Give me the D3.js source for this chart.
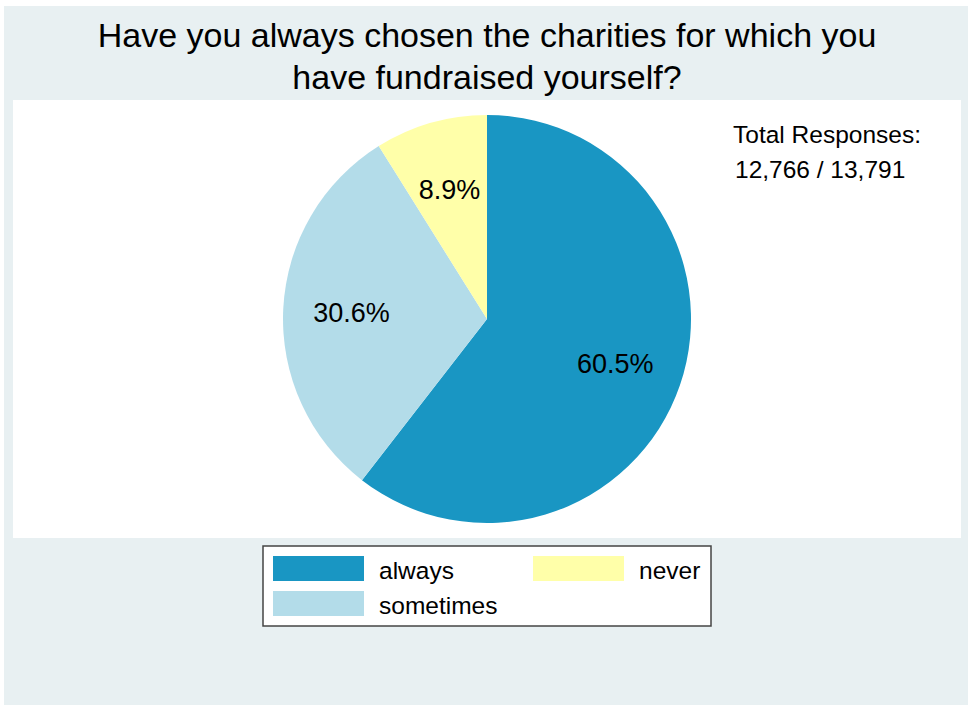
<!DOCTYPE html>
<html>
<head>
<meta charset="utf-8">
<script src="https://cdn.jsdelivr.net/npm/d3@7"></script>
<style>
  html, body { margin: 0; padding: 0; background: #ffffff; }
  svg { display: block; font-family: "Liberation Sans", Arial, sans-serif; }
</style>
</head>
<body>
<div id="chart"></div>
<script>
// values
const categories = ["always", "sometimes", "never"];
const shares = [60.5, 30.6, 8.9];
const colours = ["#1996c3", "#b3dce9", "#ffffa9"];
const titleLines = ["Have you always chosen the charities for which you", "have fundraised yourself?"];
const noteLines = ["Total Responses:", "12,766 / 13,791"];

function drawPie() {
    const width = 969,
        height = 705;

    const cx = 487, cy = 319, radius = 204;
    const labelRadius = radius * 0.665;

    const svg = d3.select("#chart")
        .append("svg")
            .attr("width", width)
            .attr("height", height);

    // outer graph region + plot region
    svg.append("rect")
        .attr("x", 4).attr("y", 6)
        .attr("width", 964).attr("height", 699)
        .attr("fill", "#e8f0f2");

    svg.append("rect")
        .attr("x", 13).attr("y", 100)
        .attr("width", 948).attr("height", 438)
        .attr("fill", "#ffffff");

    // title
    svg.selectAll(".title")
        .data(titleLines)
        .join("text")
            .attr("class", "title")
            .attr("x", 487)
            .attr("y", (d, i) => 47 + i * 42)
            .style("font-size", "34px")
            .style("text-anchor", "middle")
            .attr("fill", "#000000")
            .text(d => d);

    const data = categories.map((c, i) => ({ cat: c, value: shares[i] }));
    const colour = d3.scaleOrdinal().domain(categories).range(colours);

    const pie = d3.pie()
        .sort(null)
        .value(d => d.value);

    const arc = d3.arc()
        .innerRadius(0)
        .outerRadius(radius);

    const labelArc = d3.arc()
        .innerRadius(labelRadius)
        .outerRadius(labelRadius);

    const g = svg.append("g")
        .attr("transform", "translate(" + cx + "," + cy + ")");

    const slices = pie(data);

    g.selectAll(".slice")
        .data(slices)
        .join("path")
            .attr("class", "slice")
            .attr("d", arc)
            .attr("fill", d => colour(d.data.cat));

    g.selectAll(".pct")
        .data(slices)
        .join("text")
            .attr("class", "pct")
            .attr("transform", d => "translate(" + labelArc.centroid(d) + ")")
            .attr("dy", "0.37em")
            .style("font-size", "27px")
            .style("text-anchor", "middle")
            .attr("fill", "#000000")
            .text(d => d.data.value.toFixed(1) + "%");

    // note in the top right
    svg.selectAll(".note")
        .data(noteLines)
        .join("text")
            .attr("class", "note")
            .attr("x", (d, i) => 733 + i * 2)
            .attr("y", (d, i) => 143 + i * 35)
            .style("font-size", "24.5px")
            .attr("fill", "#000000")
            .text(d => d);

    // legend, filled column first with 2 rows
    const legend = svg.append("g")
        .attr("transform", "translate(263,546)");

    legend.append("rect")
        .attr("x", 0).attr("y", 0)
        .attr("width", 448).attr("height", 80)
        .attr("fill", "#ffffff")
        .attr("stroke", "#444444")
        .attr("stroke-width", 1.5);

    const legRows = 2;
    const colX = d3.scaleOrdinal().domain([0, 1]).range([10, 270]);
    const rowY = d3.scaleOrdinal().domain([0, 1]).range([10, 45]);

    const keys = legend.selectAll(".key")
        .data(categories)
        .join("g")
            .attr("class", "key")
            .attr("transform", (d, i) => "translate(" + colX(Math.floor(i / legRows)) + "," + rowY(i % legRows) + ")");

    keys.append("rect")
        .attr("width", 91)
        .attr("height", 25)
        .attr("fill", d => colour(d));

    keys.append("text")
        .attr("x", 106)
        .attr("y", 23)
        .style("font-size", "24.5px")
        .attr("fill", "#000000")
        .text(d => d);
}

drawPie();
</script>
</body>
</html>
